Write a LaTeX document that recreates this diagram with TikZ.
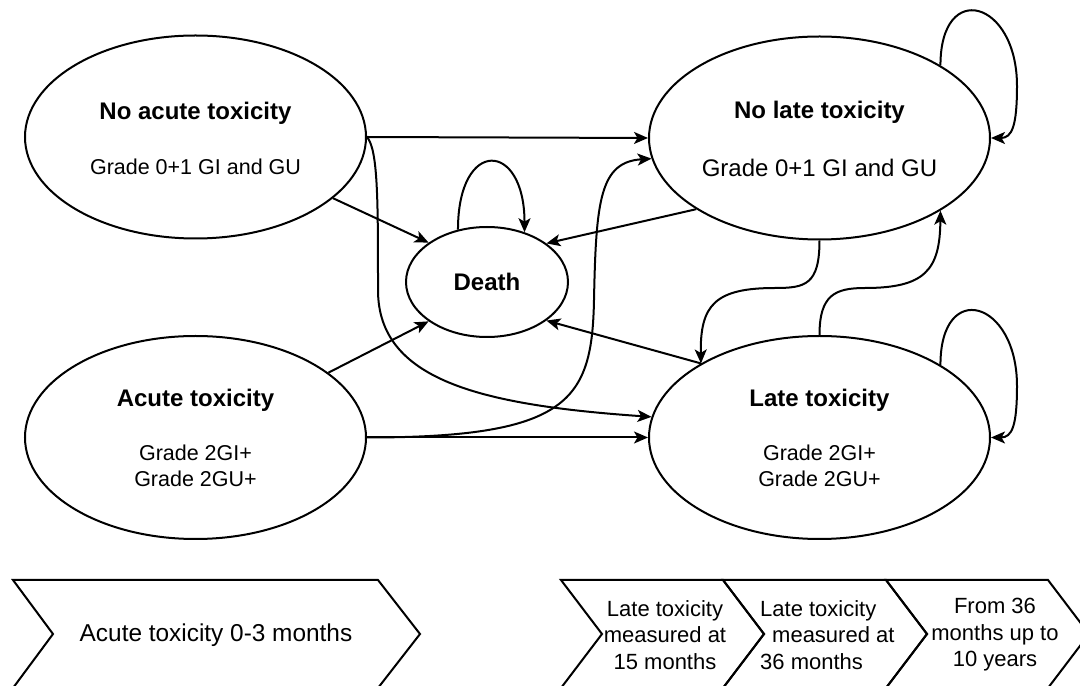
\documentclass[tikz,border=0pt]{standalone}
\usepackage{fontspec}
\setmainfont{Liberation Sans}
\usetikzlibrary{shapes.geometric,arrows.meta}
\begin{document}
\begin{tikzpicture}[x=1pt,y=1pt,
  stnode/.style={ellipse, draw, line width=2pt, minimum width=341pt, minimum height=203pt, inner sep=0pt},
  ttl/.style={font=\fontsize{24}{28}\selectfont\bfseries, inner sep=0pt},
  subtxt/.style={font=\fontsize{21.5}{26.5}\selectfont, align=center, inner sep=0pt},
  conn/.style={line width=2pt, -{Stealth[length=14pt,width=12pt,inset=3.5pt]}},
  chev/.style={draw, line width=2pt, line join=miter},
  chevtxt/.style={font=\fontsize{22}{26.5}\selectfont, inner sep=0pt}
]
\useasboundingbox (0,0) rectangle (1080,686);

% states
\node[stnode] (na) at (195.5,549) {};
\node[stnode] (at) at (195.5,248.5) {};
\node[stnode] (nl) at (819.5,548) {};
\node[stnode] (lt) at (819.5,248.5) {};
\node[ellipse, draw, line width=2pt, minimum width=162pt, minimum height=110pt, inner sep=0pt] (d) at (487,404) {};

% texts
\node[ttl] (na-t) at (195.5,573) {No acute toxicity};
\node[subtxt] (na-s) at (195.5,519) {Grade 0+1 GI and GU};
\node[ttl] (nl-t) at (819.5,574) {No late toxicity};
\node[subtxt, font=\fontsize{24}{28}\selectfont] (nl-s) at (819.5,518) {Grade 0+1 GI and GU};
\node[ttl] (at-t) at (195.5,286) {Acute toxicity};
\node[subtxt] (at-s) at (195.5,220) {Grade 2GI+\\Grade 2GU+};
\node[ttl] (lt-t) at (819.5,286) {Late toxicity};
\node[subtxt] (lt-s) at (819.5,220) {Grade 2GI+\\Grade 2GU+};
\node[ttl] (d-t) at (487,404) {Death};

% connectors
\draw[conn] (na.east) -- (nl.west);
\draw[conn] (at.east) -- (lt.west);
\draw[conn] (na.-24.6) -- (d.146.5);
\draw[conn] (at.26.5) -- (d.214.1);
\draw[conn] (nl.210.8) -- (d.33);
\draw[conn] (lt.148.9) -- (d.-33.7);
\draw[conn] (d.119.5) .. controls +(0,92) and +(0,92) .. (d.53.3);
\draw[conn] (nl.31.6) .. controls +(0,86) and +(0,86) .. (1017,600) .. controls (1017,560) and (1012,548) .. (nl.east);
\draw[conn] (lt.31) .. controls +(0,86) and +(0,86) .. (1017,300) .. controls (1017,260) and (1012,248.5) .. (lt.east);
\draw[conn] (nl.south) .. controls (819.5,401) and (805,398) .. (775,398) .. controls (715,398) and (700,381) .. (lt.148.8);
\draw[conn] (lt.north) .. controls (819.5,391) and (835,398) .. (865,398) .. controls (925,398) and (940,416) .. (nl.-31.6);
\draw[conn] (na.east) .. controls (378,536) and (378,486) .. (378,396) .. controls (378,306) and (480,281) .. (lt.173.5);
\draw[conn] (at.east) .. controls (570,248.5) and (592,286) .. (594,386) .. controls (596,486) and (600,524) .. (nl.187.3);

% chevrons
\draw[chev] (13,106) -- (378,106) -- (420,52) -- (378,-2) -- (13,-2) -- (53,52) -- cycle;
\draw[chev] (561,106) -- (723,106) -- (764,52) -- (723,-2) -- (561,-2) -- (602,52) -- cycle;
\draw[chev] (723,106) -- (886,106) -- (927,52) -- (886,-2) -- (723,-2) -- (764,52) -- cycle;
\draw[chev] (886,106) -- (1048,106) -- (1089,52) -- (1048,-2) -- (886,-2) -- (927,52) -- cycle;

\node[chevtxt, font=\fontsize{24.4}{28}\selectfont] (c0) at (216,51) {Acute toxicity 0-3 months};
\node[chevtxt, align=center] (c1) at (665,51) {Late toxicity\\measured at\\15 months};
\node[chevtxt, align=left, anchor=west] (c2) at (760,51) {Late toxicity\\\hspace*{12pt}measured at\\36 months};
\node[chevtxt, align=center] (c3) at (995,51) {From 36\\months up to\\10 years};
\end{tikzpicture}
\end{document}
